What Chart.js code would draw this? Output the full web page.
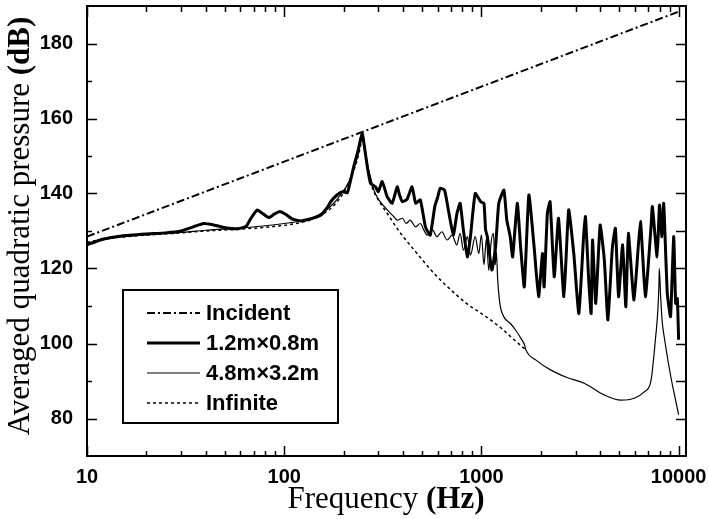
<!DOCTYPE html>
<html lang="en">
<head>
<meta charset="UTF-8">
<title>Averaged quadratic pressure</title>
<script src="https://cdn.jsdelivr.net/npm/chart.js"></script>
<style>
  body { margin: 0; background: #fff; }
  canvas { display: block; }
</style>
</head>
<body>
<canvas id="pressureChart" width="709" height="519"></canvas>
<script>
// axis ticks
const xTickLabels = [10, 100, 1000, 10000];
const yTickLabels = [80, 100, 120, 140, 160, 180];

// Incident
const incidentHz = [10, 10000];
const incidentDb = [128.5, 188.5];

// 1.2m x 0.8m plate
const smallHz = [10, 12, 15, 20, 25, 30, 35, 39, 44, 51, 58, 64, 68, 73, 78, 83.5, 89, 95, 102, 110, 121, 135, 153, 165, 172, 185, 197, 209, 225, 237, 244, 249,
  255, 264, 274, 290, 300, 314, 333, 353, 374, 385, 398, 420, 445, 464, 490, 520, 550, 580, 600, 618, 650, 680, 720, 752, 780, 810, 849, 880, 930, 992,
  1030, 1050, 1072, 1130, 1180, 1225, 1300, 1345, 1400, 1440, 1520, 1580, 1650, 1740, 1850, 1950, 2040, 2080, 2160, 2230, 2340, 2460, 2620,
  2770, 2940, 3120, 3300, 3370, 3500, 3600, 3660, 3800, 4000, 4200, 4380, 4610, 4780, 4960, 5200, 5400, 5560, 5940, 6400, 6780, 7230, 7360,
  7780, 8000, 8230, 8400, 8760, 9100, 9440, 9660, 9850, 10000];
const smallDb = [126.3, 127.8, 128.7, 129.2, 129.5, 130, 131.2, 132, 131.6, 130.8, 130.6, 131.2, 133.5, 135.6, 134.6, 133.6, 134.5, 135.2, 134.4, 133.2, 132.7, 133.2, 134.2, 136.2, 137.8, 139.6, 140.5, 140.2, 147.1, 151.5, 154.5, 156,
  152.5, 147.1, 142.7, 141.8, 140.5, 143.2, 139.1, 137.4, 141.8, 139.5, 137.8, 138.5, 141.8, 137.4, 138.3, 131.1, 128.9, 136.5, 139, 141.4, 140.9, 135.6, 128.9, 134.7, 137.4, 130.3, 123.1, 128.5, 140, 137.8,
  137.4, 130.3, 128.5, 119.6, 125.8, 137.4, 140.9, 132.9, 128.5, 123.1, 137.4, 125.8, 115.1, 139.6, 125.8, 112.5, 124, 115.1, 134.7, 137.8, 117.8, 133.4, 112.5,
  135.6, 124, 108, 128.9, 133.8, 116.9, 108, 127.6, 110.7, 131.6, 122.3, 106.3, 125.4, 130.7, 112.5, 126.3, 109.8, 129.4, 111.6, 132.5, 112.5, 130.3, 136.5,
  123.1, 136.9, 128.5, 137.4, 113.4, 107.2, 128.5, 110.7, 112, 101];

// 4.8m x 3.2m plate
const largeHz = [10, 12, 15, 20, 30, 40, 60, 80, 100, 120, 140, 160, 180, 195, 210, 225, 237, 245, 250,
  256, 265, 275, 285, 300, 322, 346, 360, 374, 398, 415, 435, 464, 490, 510, 530, 565, 595, 630, 670, 710, 750, 780, 810, 849, 880, 930, 970,
  1000, 1030, 1060, 1090, 1120, 1150, 1175, 1190, 1210, 1240, 1300, 1400, 1490, 1580, 1650, 1680,
  1900, 2250, 2700, 3320, 4190, 5100, 5960, 6700, 7230, 7650, 7850, 7950, 7980, 8100, 8250, 8450, 9140, 9600, 10000];
const largeDb = [126.8, 127.6, 128.4, 129, 129.6, 130.2, 130.8, 131.4, 132, 132.6, 133.6, 135.3, 137.6, 140, 142.5, 146.5, 150.5, 154, 155.8,
  152.5, 147.5, 144, 140.9, 138.5, 136.5, 134.7, 133.8, 132.9, 133.4, 132, 132.9, 131.1, 132, 130.3, 128.9, 130.3, 128.5, 129.8, 127.6, 128.9, 126.3, 129.4, 124.9, 128.5, 123.6, 128.5, 124,
  129, 121, 128, 119.5, 127, 129.4, 121, 124.5, 116.9, 110.7, 107.1, 105.4, 103.6, 101.5, 99.8, 98.3,
  95.5, 92.9, 91, 89.4, 86.3, 84.9, 85.4, 87.1, 89.9, 101.8, 109, 116, 120, 113, 106, 101.8, 91, 85.5, 81];

// Infinite plate
const infiniteHz = [10, 12, 15, 20, 30, 40, 60, 80, 100, 120, 140, 160, 180, 200, 215, 230, 240, 247, 250,
  255, 265, 280, 300, 330, 389, 450, 575, 700, 849, 1000, 1253, 1450, 1680];
const infiniteDb = [127, 127.8, 128.4, 128.9, 129.5, 130, 130.5, 131, 131.5, 132.2, 133.2, 134.8, 137, 140.2, 143.5, 147.5, 151, 154.5, 155.8,
  152.5, 146.5, 141.5, 138.3, 135, 129.4, 125.3, 118.7, 114.3, 110.5, 108, 104.2, 101.2, 98.3];

const toPoints = (hz, db) => hz.map((f, i) => ({ x: f, y: db[i] }));

const tickFont = { family: 'Liberation Sans', size: 20, weight: 'bold', lineHeight: 1 };

// frame, inward tick marks, axis titles and legend box
const decorPlugin = {
  id: 'decor',
  afterDraw(chart) {
    const { ctx, chartArea: a, scales: { x, y } } = chart;
    ctx.save();
    ctx.strokeStyle = '#000';
    ctx.lineWidth = 2;
    ctx.setLineDash([]);
    ctx.strokeRect(a.left, a.top, a.right - a.left, a.bottom - a.top);

    ctx.lineWidth = 1.5;
    ctx.beginPath();
    // x ticks, top and bottom
    for (let d = 10; d <= 10000; d *= 10) {
      for (let m = 1; m <= 9; m++) {
        const v = d * m;
        if (v > 10000 && m > 1) break;
        const px = Math.round(x.getPixelForValue(v)) + 0.5;
        const len = m === 1 ? 10 : 5;
        ctx.moveTo(px, a.bottom);
        ctx.lineTo(px, a.bottom - len);
        ctx.moveTo(px, a.top);
        ctx.lineTo(px, a.top + (m === 1 ? 11 : 6));
      }
    }
    // y ticks, left and right
    for (let v = 80; v <= 180; v += 10) {
      const py = Math.round(y.getPixelForValue(v)) + 0.5;
      const len = v % 20 === 0 ? 10 : 5;
      ctx.moveTo(a.left, py);
      ctx.lineTo(a.left + len, py);
      ctx.moveTo(a.right, py);
      ctx.lineTo(a.right - 10, py);
    }
    ctx.stroke();

    // axis titles with bold units
    const serif = 'Liberation Serif';
    const drawMixed = (parts, cx, cy) => {
      let total = 0;
      parts.forEach(p => { ctx.font = p[1]; total += ctx.measureText(p[0]).width; });
      let sx = cx - total / 2;
      parts.forEach(p => {
        ctx.font = p[1];
        ctx.fillText(p[0], sx, cy);
        sx += ctx.measureText(p[0]).width;
      });
    };
    ctx.fillStyle = '#000';
    ctx.textAlign = 'left';
    ctx.textBaseline = 'alphabetic';
    drawMixed([['Frequency ', `31px "${serif}"`], ['(Hz)', `bold 31px "${serif}"`]], 386, 508);
    ctx.save();
    ctx.translate(29, 226);
    ctx.rotate(-Math.PI / 2);
    drawMixed([['Averaged quadratic pressure ', `31px "${serif}"`], ['(dB)', `bold 31px "${serif}"`]], 0, 0);
    ctx.restore();

    // legend
    const box = { left: 123, top: 290, right: 338, bottom: 423 };
    ctx.fillStyle = '#fff';
    ctx.fillRect(box.left, box.top, box.right - box.left, box.bottom - box.top);
    ctx.lineWidth = 2;
    ctx.strokeRect(box.left, box.top, box.right - box.left, box.bottom - box.top);
    ctx.font = 'bold 22px "Liberation Sans"';
    ctx.textBaseline = 'middle';
    ctx.fillStyle = '#000';
    chart.data.datasets.forEach((ds, i) => {
      const ly = 313 + i * 30;
      ctx.lineWidth = ds.borderWidth;
      ctx.setLineDash(ds.borderDash || []);
      ctx.beginPath();
      ctx.moveTo(147, ly);
      ctx.lineTo(200, ly);
      ctx.stroke();
      ctx.fillText(ds.label, 206, ly + 1);
    });
    ctx.restore();
  }
};

new Chart(document.getElementById('pressureChart'), {
  type: 'line',
  data: {
    datasets: [
      {
        label: 'Incident',
        data: toPoints(incidentHz, incidentDb),
        borderColor: '#000',
        borderWidth: 2,
        borderDash: [8, 3, 2, 3],
        pointRadius: 0,
        fill: false
      },
      {
        label: '1.2m\u00d70.8m',
        data: toPoints(smallHz, smallDb),
        borderColor: '#000',
        borderWidth: 3,
        borderJoinStyle: 'round',
        pointRadius: 0,
        tension: 0.15,
        fill: false
      },
      {
        label: '4.8m\u00d73.2m',
        data: toPoints(largeHz, largeDb),
        borderColor: '#000',
        borderWidth: 1.2,
        pointRadius: 0,
        cubicInterpolationMode: 'monotone',
        fill: false
      },
      {
        label: 'Infinite',
        data: toPoints(infiniteHz, infiniteDb),
        borderColor: '#000',
        borderWidth: 1.5,
        borderDash: [3, 3],
        pointRadius: 0,
        cubicInterpolationMode: 'monotone',
        fill: false
      }
    ]
  },
  options: {
    responsive: false,
    animation: false,
    devicePixelRatio: 1,
    layout: { padding: { left: 0, right: 23, top: 6, bottom: 0 } },
    plugins: {
      legend: { display: false },
      tooltip: { enabled: false }
    },
    scales: {
      x: {
        type: 'logarithmic',
        min: 10,
        max: 10900,
        grid: { display: false },
        border: { display: false },
        afterBuildTicks: scale => { scale.ticks = xTickLabels.map(v => ({ value: v })); },
        afterFit: scale => {
          scale.height = 63;
          scale.paddingLeft = 0;
          scale.paddingRight = 0;
        },
        ticks: {
          color: '#000',
          font: tickFont,
          padding: 3,
          maxRotation: 0,
          autoSkip: false,
          callback: v => String(v)
        }
      },
      y: {
        min: 70,
        max: 190,
        grid: { display: false },
        border: { display: false },
        afterBuildTicks: scale => { scale.ticks = yTickLabels.map(v => ({ value: v })); },
        afterFit: scale => {
          scale.width = 87;
          scale.paddingTop = 0;
          scale.paddingBottom = 0;
        },
        ticks: {
          color: '#000',
          font: tickFont,
          padding: 6,
          callback: v => String(v)
        }
      }
    }
  },
  plugins: [decorPlugin]
});
</script>
</body>
</html>
